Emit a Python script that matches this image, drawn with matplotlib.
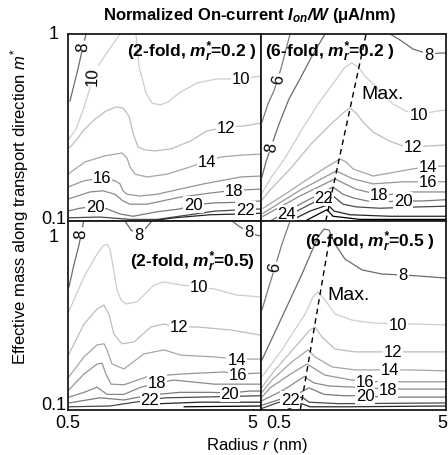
import matplotlib
matplotlib.use("Agg")
import matplotlib.pyplot as plt
import matplotlib.transforms as mtransforms

plt.rcParams["font.family"] = ["Liberation Sans", "DejaVu Sans"]
plt.rcParams["mathtext.fontset"] = "custom"
plt.rcParams["mathtext.rm"] = "Liberation Sans"
plt.rcParams["mathtext.it"] = "Liberation Sans:italic"
plt.rcParams["mathtext.bf"] = "Liberation Sans:italic:bold"

# --- contour lines: (level, radius r [nm], m*) ---
TL_LINES = [
    (8, [0.512, 0.563, 0.591, 0.620], [0.438, 0.650, 0.811, 1.0]),
    (10, [0.93, 0.814, 0.715, 0.674, 0.643, 0.598, 0.550, 0.506],
         [1.0, 0.822, 0.674, 0.596, 0.496, 0.392, 0.310, 0.275]),
    (10, [1.125, 1.166, 1.267, 1.361, 1.497, 1.649, 1.880, 2.33, 2.95, 3.93, 5.0],
         [1.0, 0.674, 0.484, 0.428, 0.417, 0.433, 0.484, 0.547, 0.575, 0.575, 0.596]),
    (12, [0.500, 0.536, 0.605, 0.682, 0.786, 0.887, 0.964, 1.035, 1.086, 1.152, 1.253,
          1.412, 1.709, 2.16, 2.62, 3.29, 4.06, 5.0],
         [0.243, 0.261, 0.307, 0.347, 0.387, 0.407, 0.402, 0.364, 0.296, 0.249, 0.240,
          0.237, 0.243, 0.268, 0.303, 0.318, 0.322, 0.334]),
    (14, [0.5, 0.613, 0.777, 0.952, 1.011, 1.047, 1.112, 1.283, 1.629, 2.06, 2.62, 3.10, 3.93, 5.0],
         [0.178, 0.207, 0.223, 0.231, 0.217, 0.195, 0.178, 0.172, 0.178, 0.192, 0.209, 0.220, 0.225, 0.228]),
    (16, [0.5, 0.605, 0.750, 0.876, 0.930, 0.964, 1.011, 1.180, 1.446, 1.895, 2.53, 3.93, 5.0],
         [0.152, 0.164, 0.170, 0.164, 0.158, 0.145, 0.139, 0.136, 0.139, 0.148, 0.158, 0.172, 0.174]),
    (18, [0.5, 0.650, 0.759, 0.876, 0.964, 1.047, 1.283, 1.895, 2.72, 3.62, 5.0],
         [0.131, 0.143, 0.145, 0.139, 0.128, 0.123, 0.123, 0.134, 0.141, 0.146, 0.148]),
    (20, [0.5, 0.577, 0.690, 0.797, 0.930, 1.086, 1.446, 1.895, 2.24, 2.89, 3.89, 5.0],
         [0.113, 0.117, 0.120, 0.116, 0.109, 0.106, 0.112, 0.116, 0.122, 0.125, 0.126, 0.128]),
    (22, [0.5, 0.732, 1.047, 1.446, 2.14, 2.89, 4.15, 5.0],
         [0.104, 0.105, 0.102, 0.102, 0.108, 0.113, 0.115, 0.116]),
    (24, [1.33, 1.78, 2.72, 3.89, 5.0], [0.100, 0.104, 0.108, 0.109, 0.110]),
]
TL_LABELS = [  # (text, r, m*, rotation)
    ("8", 0.598, 0.86, 88), ("10", 0.674, 0.596, 88), ("10", 3.93, 0.575, 0),
    ("12", 3.29, 0.318, 0), ("14", 2.62, 0.209, 0), ("16", 0.750, 0.170, 0),
    ("18", 3.62, 0.146, 0), ("20", 0.690, 0.120, 0), ("20", 2.24, 0.122, 0),
    ("22", 4.15, 0.115, 0),
]

TR_LINES = [
    (6, [0.506, 0.545, 0.587, 0.617, 0.649, 0.683, 0.718], [0.338, 0.422, 0.496, 0.575, 0.683, 0.831, 1.0]),
    (8, [1.109, 0.943, 0.812, 0.708, 0.626, 0.566, 0.532, 0.506],
        [1.0, 0.762, 0.575, 0.449, 0.330, 0.249, 0.207, 0.172]),
    (8, [2.491, 2.820, 3.316, 4.046, 4.698, 5.0], [1.0, 0.929, 0.831, 0.781, 0.791, 0.791]),
    (10, [0.506, 0.566, 0.674, 0.823, 1.016, 1.256, 1.422, 1.552, 1.672, 1.847, 2.092, 2.585,
          3.039, 3.573, 4.415, 5.0],
         [0.141, 0.170, 0.217, 0.303, 0.422, 0.561, 0.666, 0.700, 0.666, 0.588, 0.521, 0.422,
          0.387, 0.369, 0.387, 0.392]),
    (12, [0.506, 0.566, 0.726, 0.932, 1.195, 1.388, 1.514, 1.631, 1.802, 2.016, 2.460, 2.928,
          3.316, 4.046, 5.0],
         [0.130, 0.148, 0.192, 0.258, 0.330, 0.378, 0.402, 0.378, 0.334, 0.299, 0.268, 0.252,
          0.249, 0.252, 0.255]),
    (14, [0.513, 0.674, 0.865, 1.109, 1.337, 1.44, 1.571, 2.016, 2.683, 3.316, 3.996, 5.0],
         [0.117, 0.139, 0.164, 0.192, 0.215, 0.207, 0.190, 0.174, 0.183, 0.190, 0.195, 0.197]),
    (16, [0.513, 0.812, 1.272, 1.422, 1.571, 2.016, 2.928, 3.996, 5.0],
         [0.110, 0.146, 0.185, 0.176, 0.168, 0.158, 0.162, 0.162, 0.162]),
    (18, [0.513, 0.812, 1.256, 1.422, 1.631, 2.171, 2.683, 3.316, 5.0],
         [0.106, 0.136, 0.168, 0.158, 0.148, 0.138, 0.139, 0.143, 0.143]),
    (20, [0.560, 0.812, 1.225, 1.388, 1.571, 2.016, 2.928, 3.755, 5.0],
         [0.100, 0.123, 0.152, 0.139, 0.133, 0.126, 0.128, 0.128, 0.130]),
    (22, [0.617, 0.865, 1.095, 1.195, 1.388, 1.631, 2.199, 3.618, 5.0],
         [0.100, 0.119, 0.134, 0.139, 0.123, 0.119, 0.117, 0.119, 0.120]),
    (24, [0.718, 0.920, 1.151, 1.240, 1.514, 2.491, 5.0],
         [0.100, 0.113, 0.122, 0.113, 0.108, 0.106, 0.106]),
    (26, [0.865, 1.137, 1.225, 1.715, 5.0], [0.100, 0.115, 0.106, 0.102, 0.102]),
]
TR_LABELS = [
    ("6", 0.617, 0.575, 82), ("8", 0.566, 0.249, 82), ("8", 4.046, 0.781, 0),
    ("10", 3.573, 0.369, 0), ("12", 3.316, 0.249, 0), ("14", 3.996, 0.195, 0),
    ("16", 3.996, 0.162, 0), ("18", 2.171, 0.138, 0), ("20", 2.928, 0.128, 0),
    ("22", 1.095, 0.134, 0), ("24", 0.69, 0.110, 0),
]

BL_LINES = [
    (8, [0.506, 0.536, 0.570, 0.603], [0.448, 0.585, 0.746, 1.0]),
    (8, [0.987, 1.060, 1.166, 1.267, 1.361], [1.0, 0.896, 0.843, 0.919, 1.0]),
    (8, [3.54, 3.89, 4.33, 4.72, 5.0], [1.0, 0.930, 0.875, 0.843, 0.833]),
    (10, [0.506, 0.605, 0.707, 0.759, 0.797, 0.824, 0.845, 0.897, 0.941, 0.999, 1.139, 1.393,
          1.569, 1.925, 2.386, 2.86, 3.74, 5.0],
         [0.334, 0.505, 0.669, 0.738, 0.755, 0.711, 0.622, 0.432, 0.382, 0.364, 0.373, 0.458,
          0.476, 0.458, 0.448, 0.437, 0.406, 0.396]),
    (12, [0.506, 0.605, 0.707, 0.768, 0.814, 0.865, 0.952, 1.098, 1.346, 1.569, 1.880, 2.33, 3.49, 5.0],
         [0.198, 0.285, 0.342, 0.359, 0.322, 0.252, 0.224, 0.229, 0.275, 0.285, 0.275, 0.275, 0.265, 0.249]),
    (14, [0.506, 0.605, 0.707, 0.768, 0.797, 0.845, 0.975, 1.237, 1.569, 1.925, 2.86, 3.74, 5.0],
         [0.150, 0.191, 0.221, 0.224, 0.208, 0.175, 0.165, 0.198, 0.208, 0.195, 0.191, 0.186, 0.186]),
    (16, [0.506, 0.605, 0.707, 0.750, 0.786, 0.835, 0.975, 1.283, 1.925, 3.22, 3.80, 5.0],
         [0.128, 0.155, 0.175, 0.177, 0.155, 0.137, 0.136, 0.150, 0.155, 0.159, 0.155, 0.157]),
    (18, [0.506, 0.605, 0.707, 0.797, 0.975, 1.194, 1.446, 1.771, 2.86, 5.0],
         [0.117, 0.124, 0.132, 0.121, 0.121, 0.132, 0.139, 0.144, 0.137, 0.137]),
    (20, [0.506, 0.732, 0.975, 1.329, 1.895, 2.72, 3.45, 4.40, 5.0],
         [0.109, 0.116, 0.113, 0.120, 0.124, 0.124, 0.123, 0.126, 0.126]),
    (22, [0.506, 0.824, 1.047, 1.329, 1.591, 2.41, 5.0],
         [0.104, 0.105, 0.109, 0.113, 0.116, 0.117, 0.119]),
    (24, [1.497, 2.41, 5.0], [0.108, 0.110, 0.110]),
    (26, [2.0, 5.0], [0.104, 0.105]),
]
BL_LABELS = [
    ("8", 0.584, 0.864, 88), ("8", 1.166, 0.85, 0), ("8", 4.33, 0.875, 0),
    ("10", 2.386, 0.448, 0), ("12", 1.880, 0.275, 0), ("14", 3.74, 0.186, 0),
    ("16", 3.80, 0.155, 0), ("18", 1.446, 0.139, 0), ("20", 3.45, 0.123, 0),
    ("22", 1.329, 0.113, 0),
]

BR_LINES = [
    (6, [0.718, 0.649, 0.595, 0.545, 0.506], [1.0, 0.755, 0.571, 0.432, 0.338]),
    (8, [0.506, 0.649, 0.833, 1.016, 1.095, 1.166, 1.256, 1.422, 1.758, 2.255, 2.928, 3.53, 5.0],
        [0.184, 0.310, 0.524, 0.823, 0.907, 0.896, 0.755, 0.629, 0.551, 0.524, 0.518, 0.512, 0.499]),
    (10, [0.506, 0.649, 0.865, 0.955, 1.016, 1.109, 1.256, 1.552, 1.99, 2.752, 3.53, 5.0],
         [0.150, 0.208, 0.322, 0.396, 0.421, 0.382, 0.322, 0.299, 0.289, 0.285, 0.285, 0.282]),
    (12, [0.506, 0.595, 0.792, 0.909, 0.979, 1.068, 1.256, 1.611, 2.585, 3.275, 5.0],
         [0.132, 0.163, 0.224, 0.262, 0.275, 0.243, 0.210, 0.203, 0.203, 0.203, 0.203]),
    (14, [0.506, 0.573, 0.735, 0.898, 0.979, 1.21, 1.611, 2.491, 3.115, 5.0],
         [0.124, 0.144, 0.180, 0.208, 0.191, 0.169, 0.163, 0.163, 0.163, 0.161]),
    (16, [0.506, 0.560, 0.708, 0.886, 1.109, 1.552, 1.824, 2.255, 5.0],
         [0.117, 0.131, 0.153, 0.175, 0.153, 0.144, 0.142, 0.141, 0.141]),
    (18, [0.506, 0.666, 0.854, 0.967, 1.166, 1.611, 2.43, 3.115, 5.0],
         [0.112, 0.128, 0.150, 0.139, 0.134, 0.132, 0.129, 0.129, 0.129]),
    (20, [0.506, 0.803, 0.909, 1.095, 1.405, 1.824, 2.255, 5.0],
         [0.106, 0.123, 0.131, 0.121, 0.119, 0.119, 0.117, 0.117]),
    (22, [0.506, 0.610, 0.718, 0.833, 0.909, 1.32, 5.0],
         [0.102, 0.109, 0.114, 0.117, 0.110, 0.108, 0.109]),
    (24, [0.70, 0.83, 0.92, 1.5, 5.0], [0.101, 0.108, 0.104, 0.104, 0.105]),
]
BR_LABELS = [
    ("6", 0.595, 0.571, 80), ("8", 2.928, 0.518, 0), ("10", 2.752, 0.285, 0),
    ("12", 2.585, 0.203, 0), ("14", 2.491, 0.163, 0), ("16", 1.824, 0.142, 0),
    ("18", 2.43, 0.129, 0), ("20", 1.824, 0.119, 0), ("22", 0.718, 0.114, 0),
]

# ridge of maximum current (dashed)
TR_MAX_R = [1.12, 1.85]
TR_MAX_M = [0.1, 1.0]
BR_MAX_R = [0.815, 1.18]
BR_MAX_M = [0.1, 0.833]
TR_MAX_TEXT = (1.736, 0.478)
BR_MAX_TEXT = (1.137, 0.406)

TAGS = [
    r"(2-fold, $\mathbf{m}^{\mathbf{*}}_{\mathbf{r}}$=0.2 )",
    r"(6-fold, $\mathbf{m}^{\mathbf{*}}_{\mathbf{r}}$=0.2 )",
    r"(2-fold, $\mathbf{m}^{\mathbf{*}}_{\mathbf{r}}$=0.5)",
    r"(6-fold, $\mathbf{m}^{\mathbf{*}}_{\mathbf{r}}$=0.5 )",
]

LEVEL_COLORS = {6: "#7c7c7c", 8: "#6c6c6c", 10: "#cdcdcd", 12: "#bdbdbd", 14: "#a6a6a6",
                16: "#969696", 18: "#8a8a8a", 20: "#7a7a7a", 22: "#4a4a4a", 24: "#262626",
                26: "#000000"}

W, H = 448, 456
fig = plt.figure(figsize=(W / 100, H / 100), dpi=100)


def px_axes(x0, y0, x1, y1):
    return fig.add_axes([x0 / W, 1 - y1 / H, (x1 - x0) / W, (y1 - y0) / H])


ax_tl = px_axes(68, 35, 261, 222)
ax_tr = px_axes(261, 35, 446, 222)
ax_bl = px_axes(68, 222, 261, 411)
ax_br = px_axes(261, 222, 446, 411)


def draw_panel(ax, lines, labels):
    ax.set_xscale("log")
    ax.set_yscale("log")
    ax.set_xlim(0.5, 5)
    ax.set_ylim(0.1, 1)
    ax.set_xticks([])
    ax.set_xticks([], minor=True)
    ax.set_yticks([])
    ax.set_yticks([], minor=True)
    for sp in ax.spines.values():
        sp.set_linewidth(1.3)
        sp.set_color("#1a1a1a")
    for level, r, m in lines:
        ax.plot(r, m, color=LEVEL_COLORS[level], lw=0.9, zorder=2, solid_joinstyle="round")
    for text, r, m, rot in labels:
        ax.text(r, m, text, fontsize=12, ha="center", va="center", rotation=rot, zorder=3,
                bbox=dict(boxstyle="square,pad=0.06", fc="white", ec="none"))


draw_panel(ax_tl, TL_LINES, TL_LABELS)
draw_panel(ax_tr, TR_LINES, TR_LABELS)
draw_panel(ax_bl, BL_LINES, BL_LABELS)
draw_panel(ax_br, BR_LINES, BR_LABELS)

for ax, mr, mm, (tx, ty) in [(ax_tr, TR_MAX_R, TR_MAX_M, TR_MAX_TEXT),
                             (ax_br, BR_MAX_R, BR_MAX_M, BR_MAX_TEXT)]:
    ax.plot(mr, mm, color="black", lw=1.0, ls=(0, (4, 3)), zorder=4)
    ax.text(tx, ty, "Max.", fontsize=14, ha="left", va="center", zorder=5)

tag_kw = dict(fontsize=12.5, fontweight="bold", zorder=6)
ax_tl.text(0.979, 0.975, TAGS[0], transform=ax_tl.transAxes, ha="right", va="top", **tag_kw)
ax_tr.text(0.022, 0.975, TAGS[1], transform=ax_tr.transAxes, ha="left", va="top", **tag_kw)
ax_bl.text(0.969, 0.855, TAGS[2], transform=ax_bl.transAxes, ha="right", va="top", **tag_kw)
ax_br.text(0.941, 0.96, TAGS[3], transform=ax_br.transAxes, ha="right", va="top", **tag_kw)


def tick_label(ax, text, x, y, axis, dx=0, dy=0):
    if axis == "y":
        tr = mtransforms.blended_transform_factory(ax.transAxes, ax.transData)
    else:
        tr = mtransforms.blended_transform_factory(ax.transData, ax.transAxes)
    ax.annotate(text, xy=(x, y), xycoords=tr, xytext=(dx * 0.72, dy * 0.72),
                textcoords="offset points", ha="center", va="center", fontsize=13,
                annotation_clip=False)


tick_label(ax_tl, "1", -0.0725, 1.0, "y", dy=1)
tick_label(ax_tl, "0.1", -0.0725, 0.1, "y", dy=3)
tick_label(ax_bl, "1", -0.0725, 1.0, "y", dy=-16)
tick_label(ax_bl, "0.1", -0.0725, 0.1, "y", dy=5)
tick_label(ax_bl, "0.5", 0.5, 0.0, "x", dy=-13)
tick_label(ax_bl, "5", 5.0, 0.0, "x", dx=-8.5, dy=-13)
tick_label(ax_br, "0.5", 0.5, 0.0, "x", dx=17.5, dy=-13)
tick_label(ax_br, "5", 5.0, 0.0, "x", dx=-3.5, dy=-13)

fig.text(0.558, 0.965, r"Normalized On-current $\mathbf{I}_{\mathbf{on}}\mathbf{/W}$ (μA/nm)",
         fontsize=12, fontweight="bold", ha="center", va="center")
fig.text(0.0446, 0.546, r"Effective mass along transport direction $m^{*}$",
         fontsize=12, rotation=90, ha="center", va="center")
fig.text(0.574, 0.022, r"Radius $r$ (nm)", fontsize=12, ha="center", va="center")

fig.savefig("out.png", dpi=100)
